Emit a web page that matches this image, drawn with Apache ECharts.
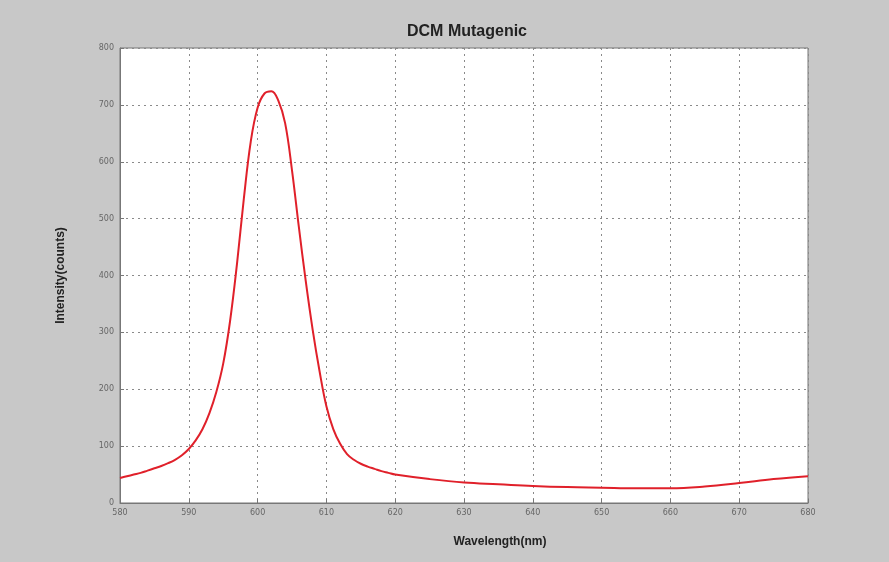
<!DOCTYPE html>
<html>
<head>
<meta charset="utf-8">
<script src="https://cdn.jsdelivr.net/npm/echarts@6/dist/echarts.min.js"></script>
<style>
html,body{margin:0;padding:0;background:#c8c8c8;}
#chart{width:889px;height:562px;}
</style>
</head>
<body>
<div id="chart"></div>
<script>
const chartTitle = "DCM Mutagenic";
const xAxisName = "Wavelength(nm)";
const yAxisName = "Intensity(counts)";
const wavelengths = [580,581,582,583,584,585,586,587,588,589,590,591,592,593,594,595,596,597,598,599,600,601,602,603,604,605,606,607,608,609,610,611,612,613,614,615,616,617,618,619,620,625,630,635,640,645,650,655,660,665,670,675,680];
const intensities = [44,47,50,53,57,61,65,70,76,84,95,110,130,158,195,245,320,420,535,635,695,720,724,708,668,585,485,390,305,232,170,130,104,86,76,69,64,60,56,53,50,42,36,33,30,28,27,26,26,29,35,42,47];
const xMin = 580, xMax = 680, xStep = 10;
const yMin = 0, yMax = 800, yStep = 100;

const chart = echarts.init(document.getElementById('chart'));
chart.setOption({
  backgroundColor: '#c8c8c8',
  animation: false,
  title: {
    text: chartTitle,
    left: 462, top: 19, textAlign: 'center',
    textStyle: {fontFamily: 'Liberation Sans, Arial, sans-serif', fontSize: 16, fontWeight: 'bold', color: '#222'}
  },
  grid: {left: 120, right: 81, top: 48, bottom: 59, show: true, backgroundColor: '#ffffff', borderColor: '#777', borderWidth: 1},
  xAxis: {
    type: 'value', min: xMin, max: xMax, interval: xStep,
    name: xAxisName, nameLocation: 'middle', nameGap: 33,
    nameTextStyle: {fontFamily: 'Liberation Sans, Arial, sans-serif', fontSize: 12, fontWeight: 'bold', color: '#222', padding: [0, 0, 0, 72]},
    axisLine: {show: true, lineStyle: {color: '#777', width: 1}},
    axisTick: {show: true, inside: true, length: 4, lineStyle: {color: '#777'}},
    axisLabel: {fontSize: 8, color: '#666', margin: 6, fontFamily: 'DejaVu Sans'},
    splitLine: {show: true, lineStyle: {color: '#8a8a8a', type: [2, 4], width: 1}}
  },
  yAxis: {
    type: 'value', min: yMin, max: yMax, interval: yStep,
    name: yAxisName, nameLocation: 'middle', nameGap: 53, nameRotate: 90,
    nameTextStyle: {fontFamily: 'Liberation Sans, Arial, sans-serif', fontSize: 12, fontWeight: 'bold', color: '#222'},
    axisLine: {show: true, lineStyle: {color: '#777', width: 1}},
    axisTick: {show: true, inside: true, length: 4, lineStyle: {color: '#777'}},
    axisLabel: {fontSize: 8, color: '#666', margin: 6, fontFamily: 'DejaVu Sans'},
    splitLine: {show: true, lineStyle: {color: '#8a8a8a', type: [2, 4], width: 1}}
  },
  series: [{
    type: 'line',
    data: wavelengths.map((w, i) => [w, intensities[i]]),
    smooth: 0.4,
    showSymbol: false,
    lineStyle: {color: '#e0202a', width: 2},
    clip: true
  }]
});
</script>
</body>
</html>
